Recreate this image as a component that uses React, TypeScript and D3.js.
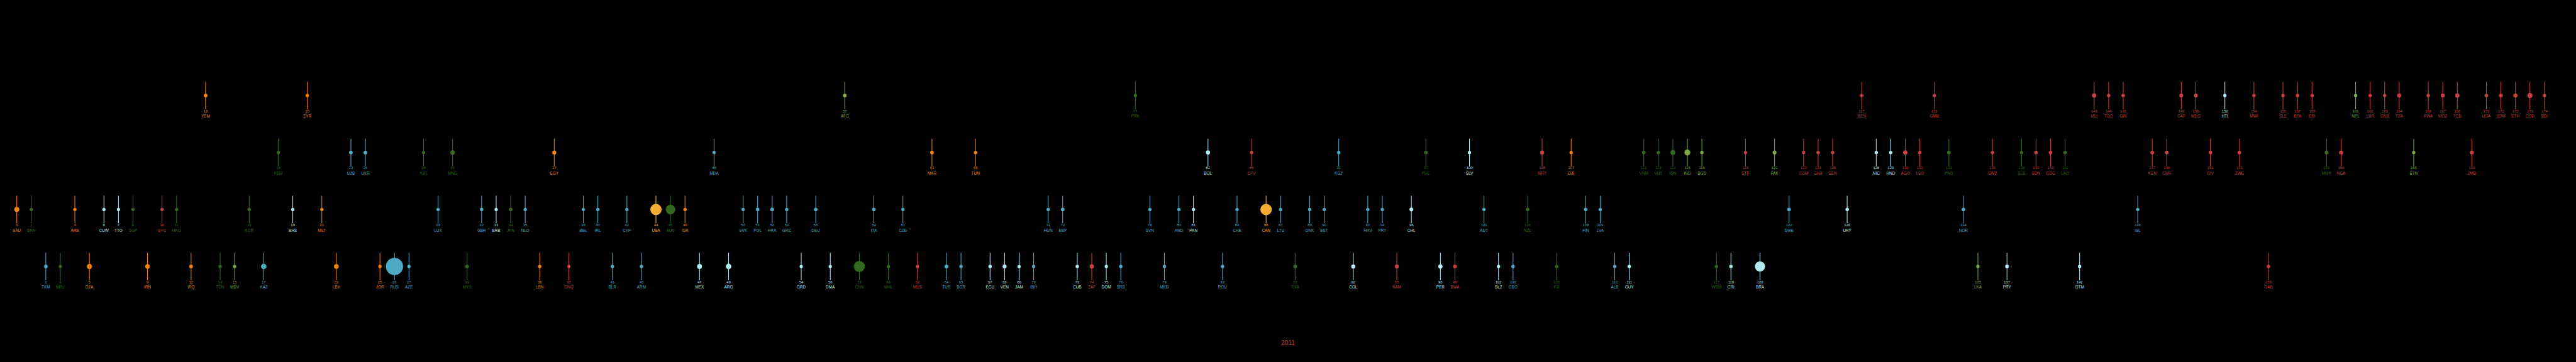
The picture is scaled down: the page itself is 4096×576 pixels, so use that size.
import React from 'react';
import * as d3 from 'd3';

// countries in rank order (the rank is the index)
const codes = [
  'SAU','BRN','TKM','NRU','ARE','DZA','CUW','TTO','SGP','IRN',
  'SYC','HKG','IRQ','YEM','TON','MDV','KOR','KAZ','FSM','BHS',
  'SYR','MLT','LBY','UZB','UKR','JOR','RUS','AZE','KIR','LUX',
  'MNG','MYS','GBR','BRB','JPN','NLD','LBN','EGY','GNQ','BEL',
  'IRL','BLR','CYP','ARM','USA','AUS','ISR','MEX','MDA','ARG',
  'SVK','POL','FRA','GRC','GRD','DEU','DMA','AFG','CHN','ITA',
  'MHL','CZE','MUS','MAR','TUR','BGR','TUN','ECU','VEN','JAM',
  'BIH','HUN','ESP','CUB','ZAF','DOM','SRB','PRK','SVN','MKD',
  'AND','PAN','BOL','ROU','CHE','CPV','CAN','LTU','THA','DNK',
  'EST','KGZ','COL','HRV','PRT','NAM','CHL','PHL','PER','BWA',
  'SLV','AUT','BLZ','GEO','NZL','MRT','FJI','DJI','FIN','LVA',
  'ALB','GUY','VNM','VUT','IDN','IND','BGD','WSM','CRI','STP',
  'BRA','PAK','SWE','COM','GHA','SEN','URY','BEN','NIC','HND',
  'AGO','LSO','GMB','PNG','NOR','LKA','SWZ','PRY','SLB','SDN',
  'COG','LAO','GTM','MLI','TGO','GIN','ISL','KEN','CMR','CAF',
  'MDG','CIV','HTI','ZWE','MWI','GAB','SLE','BFA','ERI','MMR',
  'NGA','NPL','LBR','GNB','TZA','BTN','RWA','MOZ','TCD','ZMB',
  'UGA','SOM','ETH','COD','BDI',
];

// M = Middle East & N. Africa, E = East Asia & Pacific, S = South Asia,
// U = Europe & Central Asia, L = Latin America, A = Sub-Saharan Africa, N = North America
const regions = [
  'M','E','U','E','M','M','L','L','E','M',
  'A','E','M','M','E','S','E','U','E','L',
  'M','M','M','U','U','M','U','U','E','U',
  'E','E','U','L','E','U','M','M','A','U',
  'U','U','U','U','N','E','M','L','U','L',
  'U','U','U','U','L','U','L','S','E','U',
  'E','U','A','M','U','U','M','L','L','L',
  'U','U','U','L','A','L','U','E','U','U',
  'U','L','L','U','U','A','N','U','E','U',
  'U','U','L','U','U','A','L','E','L','A',
  'L','U','L','U','E','A','E','M','U','U',
  'U','L','E','E','E','S','S','E','L','A',
  'L','S','U','A','A','A','L','A','L','L',
  'A','A','A','E','U','S','A','L','E','A',
  'A','E','L','A','A','A','U','A','A','A',
  'A','A','L','A','A','A','A','A','A','E',
  'A','S','A','A','A','S','A','A','A','A',
  'A','A','A','A','A',
];

// income group decides the row
const incomes = [
  'H','H','UM','UM','H','UM','H','H','H','UM',
  'H','H','UM','L','UM','UM','H','UM','LM','H',
  'L','H','UM','LM','LM','UM','UM','UM','LM','H',
  'LM','UM','H','H','H','H','UM','LM','UM','H',
  'H','UM','H','UM','H','H','H','UM','LM','UM',
  'H','H','H','H','UM','H','UM','L','UM','H',
  'UM','H','UM','LM','UM','UM','LM','UM','UM','UM',
  'UM','H','H','UM','UM','UM','UM','L','H','UM',
  'H','H','LM','UM','H','LM','H','H','UM','H',
  'H','LM','UM','H','H','UM','H','LM','UM','UM',
  'LM','H','UM','UM','H','LM','UM','LM','H','H',
  'UM','UM','LM','LM','LM','LM','LM','UM','UM','LM',
  'UM','LM','H','LM','LM','LM','H','L','LM','LM',
  'LM','LM','L','LM','H','UM','LM','UM','LM','LM',
  'LM','LM','UM','L','L','L','H','LM','LM','L',
  'L','LM','L','LM','L','UM','L','L','L','LM',
  'LM','L','L','L','L','LM','L','L','L','LM',
  'L','L','L','L','L',
];

// land area, thousand km2 (drives the circle size)
const areas = [
  2150, 5.8, 488, 0.02, 84, 2382, 0.4, 5.1, 0.7, 1648,
  0.5, 1.1, 438, 528, 0.7, 0.3, 100, 2725, 0.7, 14,
  185, 0.3, 1760, 447, 604, 89, 17098, 87, 0.8, 2.6,
  1564, 330, 244, 0.4, 378, 42, 10, 1001, 28, 31,
  70, 208, 9, 30, 9834, 7692, 22, 1964, 34, 2780,
  49, 313, 549, 132, 0.3, 357, 0.8, 653, 9597, 301,
  0.2, 79, 2, 447, 784, 111, 164, 284, 916, 11,
  51, 93, 506, 110, 1221, 49, 88, 121, 20, 26,
  0.5, 75, 1099, 238, 41, 4, 9985, 65, 513, 43,
  45, 200, 1142, 57, 92, 825, 756, 300, 1285, 582,
  21, 84, 23, 70, 268, 1031, 18, 23, 338, 65,
  29, 215, 331, 12, 1905, 3287, 148, 3, 51, 1,
  8516, 796, 450, 2, 239, 197, 176, 115, 130, 112,
  1247, 30, 11, 463, 385, 66, 17, 407, 29, 300,
  342, 237, 109, 1240, 57, 246, 103, 580, 475, 623,
  587, 322, 28, 391, 118, 268, 72, 274, 118, 677,
  924, 147, 111, 36, 947, 38, 26, 802, 1284, 753,
  242, 638, 1104, 2345, 28,
];

const incomeRows = ['L', 'LM', 'H', 'UM'];
const regionKeys = ['M', 'E', 'S', 'U', 'L', 'A', 'N'];
const regionPalette = ['#f5800a', '#33691e', '#7cab46', '#4eaac4', '#b2ebf2', '#c8403f', '#f5ae32'];
const yearLabel = '2011';

const W = 7680;
const H = 1080;
const FONT = '"Liberation Sans", Arial, sans-serif';

const App = () => {
  const x = d3.scalePoint<string>().domain(codes).range([50, 7586]);
  const y = d3.scalePoint<string>().domain(incomeRows).range([285, 795]);
  const r = d3.scaleLinear().domain([0, d3.max(areas) as number]).range([4.9, 25.6]);
  const color = d3.scaleOrdinal<string, string>().domain(regionKeys).range(regionPalette);

  return (
    <svg
      width={4096}
      height={576}
      viewBox={`0 0 ${W} ${H}`}
      style={{ position: 'absolute', left: 0, top: 0, display: 'block', background: '#000' }}
    >
      <rect x={0} y={0} width={W} height={H} fill="#000" />
      {codes.map((code, i) => {
        const cx = x(code) as number;
        const cy = y(incomes[i]) as number;
        const c = color(regions[i]);
        return (
          <g key={code}>
            <line x1={cx} x2={cx} y1={cy - 41} y2={cy + 41} stroke={c} strokeWidth={2} />
            <circle cx={cx} cy={cy} r={r(areas[i])} fill={c} />
            <text x={cx} y={cy + 50} textAnchor="middle" fill={c} fontFamily={FONT} fontSize={11}>
              {i}
            </text>
            <text x={cx} y={cy + 66} textAnchor="middle" fill={c} fontFamily={FONT} fontSize={12}>
              {code}
            </text>
          </g>
        );
      })}
      <text x={3840} y={1030} textAnchor="middle" fill="#c8403f" fontFamily={FONT} fontSize={19}>
        {yearLabel}
      </text>
    </svg>
  );
};

export default App;
